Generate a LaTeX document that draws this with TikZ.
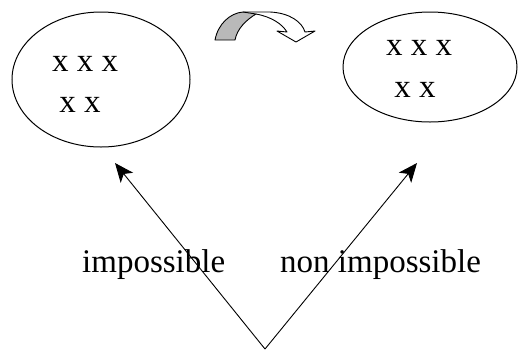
\documentclass[tikz,border=0pt]{standalone}
\usepackage{fontspec}
\setmainfont{Liberation Serif}
\usetikzlibrary{shapes.geometric,arrows.meta}
\tikzset{
  oval/.style={draw, ellipse, line width=1pt, inner sep=0pt},
  xs/.style={font=\fontsize{33}{36}\selectfont, inner sep=0pt, anchor=center},
  lbl/.style={font=\fontsize{33}{36}\selectfont, inner sep=0pt, anchor=base west},
  ptr/.style={line width=0.9pt, -{Stealth[length=19pt,width=16pt,inset=5pt]}},
}
\begin{document}
\begin{tikzpicture}[x=1pt,y=-1pt]
\useasboundingbox (0,0) rectangle (518,349);
% ellipses
\node[oval, minimum width=178pt, minimum height=135pt] (L) at (101,79.5) {};
\node[oval, minimum width=174pt, minimum height=110pt] (R) at (430,67) {};
% contents
\node[xs] (l1) at (85,64) {x x x};
\node[xs] (l2) at (80,105) {x x};
\node[xs] (r1) at (419,48) {x x x};
\node[xs] (r2) at (415,90) {x x};
% curved block arrow
\fill[gray!55] (215,40) .. controls (218,24) and (230,13) .. (243,12)
  -- (256,14) .. controls (246,20) and (237,29) .. (235,40) -- cycle;
\draw[line width=0.9pt, line join=round] (215,40) .. controls (218,24) and (230,13) .. (243,12)
  -- (256,14) .. controls (246,20) and (237,29) .. (235,40) -- cycle;
\draw[line width=0.9pt, line join=round] (243,12) -- (270,12)
  .. controls (290,13) and (302,22) .. (305,32) -- (315,31) -- (296,42) -- (277,31) -- (287,32)
  .. controls (282,24) and (272,17) .. (256,14);
% arrows
\coordinate (base) at (265,349);
\coordinate (tl) at (115,163);
\coordinate (tr) at (417,163);
\draw[ptr] (base) -- (tl);
\draw[ptr] (base) -- (tr);
% labels
\node[lbl] (imp) at (82,272) {impossible};
\node[lbl] (nimp) at (280,272) {non impossible};
\end{tikzpicture}
\end{document}
